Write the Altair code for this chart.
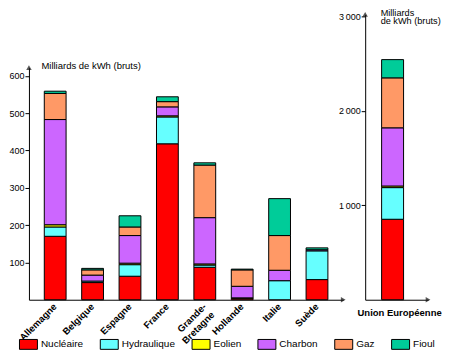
import altair as alt
import pandas as pd

pays = ["Allemagne", "Belgique", "Espagne", "France", "Grande-Bretagne",
        "Hollande", "Italie", "Suède"]
sources = ["Nucléaire", "Hydraulique", "Eolien", "Charbon", "Gaz", "Fioul"]
couleurs = ["#FF0000", "#66FFFF", "#FFFF00", "#CC66FF", "#FF9966", "#00CC99"]

nucleaire = [170, 46, 63, 418, 87, 4, 0, 54]
hydraulique = [25, 4, 31, 72, 6, 0, 51, 77]
eolien = [6, 0, 4, 3, 3, 1, 0, 0]
charbon = [282, 16, 74, 24, 124, 31, 28, 3]
gaz = [70, 14, 23, 14, 141, 44, 93, 0]
fioul = [6, 4, 30, 13, 6, 2, 99, 5]

ue_nom = ["Union Européenne"]
ue_valeurs = [852, 335, 17, 616, 529, 193]

ticks_gauche = [100, 200, 300, 400, 500, 600]
ticks_droite = [1000, 2000, 3000]
axe_gauche = {"bas": 0, "haut": 622}

series = [nucleaire, hydraulique, eolien, charbon, gaz, fioul]
rows = []
for i, p in enumerate(pays):
    for k, s in enumerate(sources):
        v = series[k][i]
        if v > 0:
            rows.append({"pays": p, "source": s, "valeur": v, "ordre": k})

rows_r = []
for k, s in enumerate(sources):
    if ue_valeurs[k] > 0:
        rows_r.append({"zone": ue_nom[0], "source": s, "valeur": ue_valeurs[k], "ordre": k})

H = 286
WL = 315
WR = 63
FONT = "Liberation Sans"
NOIR = "#111111"
PX_PAR_UNITE = 0.3739

color_enc = alt.Color(
    "source:N", sort=sources,
    scale=alt.Scale(domain=sources, range=couleurs),
    legend=alt.Legend(
        title=None, orient="none", direction="horizontal",
        legendX=-10, legendY=321,
        symbolType="M-1,-0.55L1,-0.55L1,0.55L-1,0.55Z", symbolSize=324,
        symbolStrokeColor="black", symbolStrokeWidth=1, symbolOpacity=1,
        columnPadding=14, labelOffset=3, labelFontSize=10, labelFont=FONT,
        labelColor="black", padding=0,
    ),
)

y_axis_l = alt.Axis(
    values=ticks_gauche, domain=True, domainColor="black", grid=False,
    tickSize=4, tickColor="black",
    labelFontSize=9, labelFont=FONT, labelColor="black", labelPadding=1,
    title="Milliards de kWh (bruts)", titleAngle=0, titleAlign="left",
    titleBaseline="middle", titleX=12, titleY=51, titleFontSize=9.5,
    titleFontWeight="normal", titleFont=FONT, titleColor="black",
)

ysc_l = alt.Scale(domain=[axe_gauche["bas"], axe_gauche["haut"]], nice=False, zero=True,
                  range=[H, H - axe_gauche["haut"] * PX_PAR_UNITE])

bars_l = alt.Chart(alt.Data(values=rows)).mark_bar(stroke="black", strokeWidth=1).encode(
    x=alt.X("pays:N", sort=pays,
            scale=alt.Scale(paddingInner=0.417, paddingOuter=0.41),
            axis=alt.Axis(title=None, labelAngle=-45, labelAlign="right",
                          labelBaseline="middle", ticks=False, domainColor="black",
                          labelFontSize=9.5, labelFontWeight="bold", labelFont=FONT,
                          labelColor="black", labelPadding=5,
                          labelExpr="datum.label == 'Grande-Bretagne' ? ['Grande-', 'Bretagne'] : datum.label")),
    y=alt.Y("valeur:Q", stack="zero", scale=ysc_l, axis=y_axis_l),
    color=color_enc,
    order=alt.Order("ordre:Q"),
)

axe_data = alt.Data(values=[axe_gauche])
arrow_up_l = alt.Chart(axe_data).mark_point(shape="triangle-up", filled=True,
                                            color=NOIR, size=30).encode(
    x=alt.value(0), y=alt.Y("haut:Q"))
arrow_right_l = alt.Chart(axe_data).mark_point(shape="triangle-right", filled=True,
                                               color=NOIR, size=30).encode(
    x=alt.value(WL), y=alt.value(H))

left = alt.layer(bars_l, arrow_up_l, arrow_right_l).properties(width=WL, height=H)

ysc_r = alt.Scale(domain=[0, 3021], nice=False, zero=True)
y_axis_r = alt.Axis(
    values=ticks_droite, grid=False, tickSize=4, tickColor="black", domainColor="black",
    labelFontSize=9, labelFont=FONT, labelColor="black", labelPadding=1,
    labelExpr="replace(format(datum.value, ','), ',', '\u2009')",
    title=["Milliards", "de kWh (bruts)"], titleAngle=0, titleAlign="left",
    titleBaseline="top", titleX=15, titleY=-6, titleFontSize=9.2, titleLineHeight=8.5,
    titleFontWeight="normal", titleFont=FONT, titleColor="black",
)
bars_r = alt.Chart(alt.Data(values=rows_r)).mark_bar(stroke="black", strokeWidth=1).encode(
    x=alt.X("zone:N", scale=alt.Scale(paddingInner=0.5, paddingOuter=0.466, align=0.402),
            axis=alt.Axis(labels=False, ticks=False, domainColor="black",
                          title="Union Européenne", titleFontWeight="bold",
                          titleFontSize=9.5, titleFont=FONT, titleColor="black",
                          titleX=34, titleY=13, titleBaseline="middle",
                          titleAlign="center")),
    y=alt.Y("valeur:Q", stack="zero", scale=ysc_r, axis=y_axis_r),
    color=color_enc,
    order=alt.Order("ordre:Q"),
)
arrow_up_r = alt.Chart(axe_data).mark_point(shape="triangle-up", filled=True,
                                            color=NOIR, size=30).encode(
    x=alt.value(0), y=alt.value(0))
arrow_right_r = alt.Chart(axe_data).mark_point(shape="triangle-right", filled=True,
                                               color=NOIR, size=30).encode(
    x=alt.value(WR), y=alt.value(H))
right = alt.layer(bars_r, arrow_up_r, arrow_right_r).properties(width=WR, height=H)

chart = alt.hconcat(left, right, spacing=22, bounds="flush").properties(
    padding={"left": 0, "top": 0, "right": 0, "bottom": 0}
).configure_view(stroke=None)

chart.save("out.html", embed_options={"renderer": "svg", "actions": False})
